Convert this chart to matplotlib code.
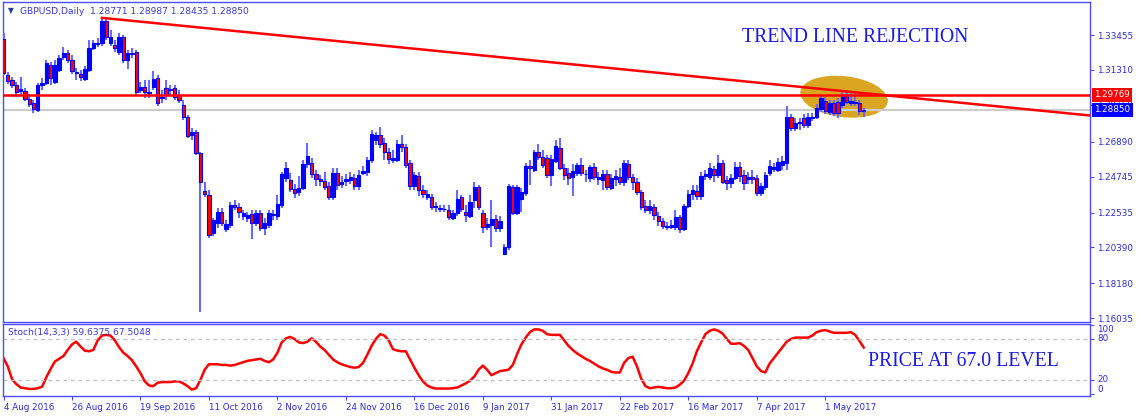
import matplotlib
matplotlib.use("Agg")
import matplotlib.pyplot as plt
import matplotlib.patches as mpatches
import matplotlib.transforms as mtransforms
import numpy as np

# daily GBPUSD candles, 4 Aug 2016 .. 12 May 2017 (one per trading day)
opens = [
    1.3321, 1.3100, 1.3069, 1.3038, 1.3001, 1.3001, 1.2952, 1.2928, 1.2885, 1.3038,
    1.3051, 1.3161, 1.3057, 1.3130, 1.3210, 1.3235, 1.3192, 1.3118, 1.3106, 1.3075,
    1.3130, 1.3266, 1.3290, 1.3296, 1.3432, 1.3296, 1.3284, 1.3241, 1.3333, 1.3192,
    1.3229, 1.3241, 1.3008, 1.3026, 1.2989, 1.3026, 1.3081, 1.2958, 1.3020, 1.3008,
    1.3020, 1.2977, 1.2915, 1.2841, 1.2731, 1.2749, 1.2620, 1.2386, 1.2362, 1.2128,
    1.2190, 1.2257, 1.2153, 1.2177, 1.2300, 1.2288, 1.2233, 1.2220, 1.2245, 1.2190,
    1.2251, 1.2159, 1.2177, 1.2239, 1.2233, 1.2300, 1.2466, 1.2454, 1.2399, 1.2380,
    1.2405, 1.2552, 1.2559, 1.2491, 1.2460, 1.2448, 1.2417, 1.2350, 1.2497, 1.2429,
    1.2448, 1.2454, 1.2466, 1.2417, 1.2497, 1.2503, 1.2577, 1.2700, 1.2731, 1.2682,
    1.2626, 1.2577, 1.2577, 1.2675, 1.2657, 1.2559, 1.2417, 1.2479, 1.2392, 1.2350,
    1.2350, 1.2288, 1.2276, 1.2273, 1.2270, 1.2220, 1.2251, 1.2350, 1.2257, 1.2233,
    1.2331, 1.2411, 1.2251, 1.2165, 1.2177, 1.2214, 1.2159, 1.1999, 1.2042, 1.2411,
    1.2251, 1.2337, 1.2374, 1.2540, 1.2515, 1.2626, 1.2596, 1.2589, 1.2485, 1.2571,
    1.2651, 1.2528, 1.2497, 1.2472, 1.2497, 1.2546, 1.2491, 1.2466, 1.2534, 1.2460,
    1.2454, 1.2491, 1.2405, 1.2460, 1.2472, 1.2442, 1.2552, 1.2472, 1.2442, 1.2380,
    1.2294, 1.2270, 1.2288, 1.2233, 1.2202, 1.2165, 1.2165, 1.2165, 1.2226, 1.2153,
    1.2294, 1.2368, 1.2386, 1.2356, 1.2479, 1.2472, 1.2522, 1.2485, 1.2559, 1.2454,
    1.2436, 1.2466, 1.2534, 1.2485, 1.2460, 1.2472, 1.2466, 1.2374, 1.2411, 1.2497,
    1.2522, 1.2515, 1.2546, 1.2559, 1.2841, 1.2774, 1.2804, 1.2835, 1.2792, 1.2835,
    1.2841, 1.2891, 1.2940, 1.2872, 1.2928, 1.2934, 1.2915, 1.2971, 1.2928, 1.2928,
    1.2928, 1.28771,
]
highs = [
    1.3358, 1.3118, 1.3087, 1.3057, 1.3087, 1.3020, 1.2983, 1.2946, 1.3051, 1.3081,
    1.3192, 1.3180, 1.3192, 1.3223, 1.3272, 1.3253, 1.3223, 1.3143, 1.3130, 1.3155,
    1.3315, 1.3315, 1.3327, 1.3444, 1.3444, 1.3376, 1.3315, 1.3358, 1.3345, 1.3253,
    1.3266, 1.3253, 1.3057, 1.3069, 1.3069, 1.3124, 1.3100, 1.3008, 1.3069, 1.3038,
    1.3038, 1.3008, 1.2946, 1.2853, 1.2774, 1.2761, 1.2626, 1.2442, 1.2392, 1.2220,
    1.2282, 1.2282, 1.2208, 1.2319, 1.2331, 1.2313, 1.2270, 1.2257, 1.2270, 1.2270,
    1.2270, 1.2220, 1.2270, 1.2270, 1.2362, 1.2503, 1.2565, 1.2497, 1.2429, 1.2479,
    1.2577, 1.2682, 1.2589, 1.2515, 1.2485, 1.2503, 1.2442, 1.2528, 1.2528, 1.2479,
    1.2491, 1.2503, 1.2491, 1.2515, 1.2540, 1.2596, 1.2761, 1.2749, 1.2780, 1.2712,
    1.2651, 1.2638, 1.2700, 1.2731, 1.2675, 1.2577, 1.2503, 1.2503, 1.2423, 1.2392,
    1.2368, 1.2319, 1.2300, 1.2300, 1.2300, 1.2270, 1.2392, 1.2362, 1.2300, 1.2362,
    1.2442, 1.2423, 1.2270, 1.2220, 1.2331, 1.2239, 1.2233, 1.2060, 1.2429, 1.2423,
    1.2423, 1.2405, 1.2559, 1.2577, 1.2638, 1.2675, 1.2638, 1.2608, 1.2608, 1.2700,
    1.2712, 1.2552, 1.2528, 1.2552, 1.2559, 1.2589, 1.2515, 1.2546, 1.2559, 1.2503,
    1.2515, 1.2515, 1.2491, 1.2515, 1.2528, 1.2577, 1.2577, 1.2491, 1.2466, 1.2392,
    1.2331, 1.2331, 1.2306, 1.2257, 1.2220, 1.2196, 1.2208, 1.2270, 1.2239, 1.2306,
    1.2392, 1.2423, 1.2423, 1.2503, 1.2515, 1.2559, 1.2540, 1.2608, 1.2577, 1.2479,
    1.2491, 1.2565, 1.2565, 1.2515, 1.2503, 1.2515, 1.2485, 1.2436, 1.2503, 1.2577,
    1.2559, 1.2589, 1.2602, 1.2909, 1.2860, 1.2835, 1.2835, 1.2860, 1.2866, 1.2866,
    1.2921, 1.2977, 1.2965, 1.2946, 1.2946, 1.2958, 1.2995, 1.2995, 1.2995, 1.2989,
    1.2946, 1.28987,
]
lows = [
    1.3100, 1.3044, 1.3020, 1.2977, 1.2977, 1.2940, 1.2903, 1.2866, 1.2872, 1.3008,
    1.3038, 1.3038, 1.3044, 1.3118, 1.3192, 1.3173, 1.3106, 1.3069, 1.3063, 1.3063,
    1.3118, 1.3253, 1.3272, 1.3278, 1.3315, 1.3278, 1.3241, 1.3223, 1.3173, 1.3137,
    1.3204, 1.2977, 1.2989, 1.2958, 1.2958, 1.3008, 1.2909, 1.2928, 1.2946, 1.2977,
    1.2946, 1.2928, 1.2823, 1.2712, 1.2700, 1.2608, 1.1642, 1.2350, 1.2097, 1.2110,
    1.2159, 1.2171, 1.2134, 1.2159, 1.2270, 1.2220, 1.2208, 1.2196, 1.2091, 1.2171,
    1.2140, 1.2116, 1.2159, 1.2208, 1.2208, 1.2282, 1.2442, 1.2380, 1.2343, 1.2356,
    1.2392, 1.2528, 1.2466, 1.2417, 1.2417, 1.2392, 1.2331, 1.2331, 1.2392, 1.2405,
    1.2417, 1.2429, 1.2392, 1.2392, 1.2485, 1.2479, 1.2559, 1.2669, 1.2651, 1.2577,
    1.2552, 1.2559, 1.2565, 1.2626, 1.2528, 1.2392, 1.2392, 1.2356, 1.2343, 1.2331,
    1.2270, 1.2257, 1.2257, 1.2257, 1.2208, 1.2208, 1.2233, 1.2257, 1.2196, 1.2220,
    1.2282, 1.2270, 1.2128, 1.2146, 1.2042, 1.2134, 1.2134, 1.1993, 1.2023, 1.2239,
    1.2239, 1.2257, 1.2356, 1.2423, 1.2503, 1.2577, 1.2528, 1.2466, 1.2417, 1.2559,
    1.2515, 1.2454, 1.2423, 1.2356, 1.2479, 1.2479, 1.2442, 1.2442, 1.2454, 1.2423,
    1.2392, 1.2392, 1.2392, 1.2417, 1.2423, 1.2417, 1.2454, 1.2392, 1.2362, 1.2270,
    1.2251, 1.2245, 1.2208, 1.2171, 1.2153, 1.2146, 1.2153, 1.2146, 1.2128, 1.2140,
    1.2282, 1.2331, 1.2331, 1.2331, 1.2454, 1.2454, 1.2442, 1.2466, 1.2429, 1.2392,
    1.2405, 1.2454, 1.2442, 1.2392, 1.2429, 1.2429, 1.2356, 1.2356, 1.2392, 1.2479,
    1.2503, 1.2503, 1.2515, 1.2515, 1.2755, 1.2755, 1.2761, 1.2774, 1.2774, 1.2817,
    1.2829, 1.2872, 1.2860, 1.2854, 1.2847, 1.2835, 1.2897, 1.2921, 1.2909, 1.2909,
    1.2854, 1.28435,
]
closes = [
    1.3112, 1.3063, 1.3038, 1.2995, 1.3014, 1.2952, 1.2921, 1.2891, 1.3038, 1.3051,
    1.3173, 1.3081, 1.3161, 1.3204, 1.3235, 1.3192, 1.3124, 1.3112, 1.3087, 1.3137,
    1.3266, 1.3296, 1.3296, 1.3432, 1.3333, 1.3333, 1.3266, 1.3333, 1.3192, 1.3235,
    1.3235, 1.2995, 1.3026, 1.2995, 1.2995, 1.3075, 1.2928, 1.2965, 1.2977, 1.3014,
    1.2965, 1.2946, 1.2841, 1.2725, 1.2749, 1.2620, 1.2442, 1.2368, 1.2116, 1.2208,
    1.2257, 1.2190, 1.2183, 1.2300, 1.2288, 1.2257, 1.2251, 1.2239, 1.2190, 1.2251,
    1.2159, 1.2190, 1.2251, 1.2245, 1.2306, 1.2491, 1.2528, 1.2399, 1.2374, 1.2405,
    1.2552, 1.2602, 1.2491, 1.2460, 1.2448, 1.2411, 1.2350, 1.2497, 1.2423, 1.2442,
    1.2460, 1.2472, 1.2417, 1.2485, 1.2509, 1.2577, 1.2737, 1.2731, 1.2675, 1.2626,
    1.2583, 1.2589, 1.2675, 1.2657, 1.2546, 1.2417, 1.2485, 1.2392, 1.2368, 1.2368,
    1.2288, 1.2294, 1.2282, 1.2276, 1.2226, 1.2251, 1.2337, 1.2276, 1.2239, 1.2319,
    1.2411, 1.2288, 1.2165, 1.2183, 1.2214, 1.2159, 1.2202, 1.2042, 1.2417, 1.2251,
    1.2411, 1.2380, 1.2540, 1.2528, 1.2626, 1.2596, 1.2546, 1.2485, 1.2583, 1.2663,
    1.2528, 1.2485, 1.2466, 1.2509, 1.2546, 1.2497, 1.2488, 1.2534, 1.2472, 1.2472,
    1.2491, 1.2411, 1.2466, 1.2479, 1.2442, 1.2559, 1.2472, 1.2442, 1.2380, 1.2288,
    1.2270, 1.2294, 1.2239, 1.2202, 1.2171, 1.2171, 1.2177, 1.2226, 1.2153, 1.2294,
    1.2368, 1.2392, 1.2356, 1.2479, 1.2491, 1.2528, 1.2485, 1.2559, 1.2442, 1.2436,
    1.2466, 1.2534, 1.2479, 1.2436, 1.2472, 1.2460, 1.2374, 1.2417, 1.2485, 1.2540,
    1.2534, 1.2565, 1.2571, 1.2841, 1.2774, 1.2804, 1.2811, 1.2792, 1.2841, 1.2841,
    1.2897, 1.2958, 1.2878, 1.2928, 1.2866, 1.2866, 1.2977, 1.2934, 1.2940, 1.2934,
    1.2878, 1.28850,
]

# Stochastic (14,3,3) line, one value per candle
stoch = [
    52, 40, 21, 14, 9, 8, 7, 7, 8, 10,
    24, 36, 47, 51, 55, 64, 72, 76, 69, 63,
    62, 64, 78, 85, 86, 85, 78, 68, 60, 55,
    49, 40, 30, 18, 12, 11, 16, 17, 17, 17,
    18, 18, 15, 11, 6, 8, 20, 35, 43, 43,
    43, 42, 42, 41, 42, 44, 46, 48, 49, 50,
    51, 48, 46, 50, 60, 75, 81, 83, 80, 75,
    74, 76, 81, 76, 69, 64, 57, 50, 46, 43,
    41, 39, 38, 39, 45, 57, 70, 80, 87, 85,
    78, 65, 63, 62, 62, 50, 38, 27, 18, 12,
    9, 7.5, 7.5, 7.5, 7.5, 8, 9, 12, 15, 19,
    25, 35, 41, 35, 27, 30, 33, 34, 35, 42,
    58, 72, 82, 90, 94, 94, 92, 87, 86, 86,
    86, 78, 70, 64, 59, 55, 51, 48, 44, 40,
    37, 35, 32, 31, 31, 45, 52, 54, 40, 22,
    11, 8, 9, 10, 9, 8, 8, 9, 13, 19,
    30, 44, 62, 75, 87, 92, 94, 92, 88, 80,
    73, 73, 74, 70, 64, 52, 40, 33, 31, 44,
    52, 60, 68, 76, 80, 82, 82, 82, 82, 85,
    90, 92, 93, 91, 89, 89, 89, 89, 90, 86,
    77, 67.5,
]

date_ticks = [0, 16, 32, 48, 64, 80, 96, 112, 128, 144, 160, 176, 192]
date_labels = ['4 Aug 2016', '26 Aug 2016', '19 Sep 2016', '11 Oct 2016', '2 Nov 2016',
               '24 Nov 2016', '16 Dec 2016', '9 Jan 2017', '31 Jan 2017', '22 Feb 2017',
               '16 Mar 2017', '7 Apr 2017', '1 May 2017']
price_ticks = [1.33455, 1.31310, 1.29160, 1.26890, 1.24745, 1.22535, 1.20390, 1.18180, 1.16035]
stoch_ticks = [100, 80, 20, 0]

resistance = 1.29769
bid = 1.28850
trend_x = [23, 254]
trend_y = [1.3451, 1.2850]

BLUE = '#0000ff'
TXT = '#2d2dd6'
FRAME = '#4d4dff'
W, H = 1138, 417

fig = plt.figure(figsize=(W / 100, H / 100), dpi=100)
ax = fig.add_axes([3 / W, 1 - 322 / H, 1087 / W, 320 / H])
ax2 = fig.add_axes([3 / W, 1 - 396 / H, 1087 / W, 72 / H])

idx = np.arange(len(closes))
o = np.array(opens)
c = np.array(closes)
up = c >= o
body_lo = np.minimum(o, c)
body_h = np.maximum(np.abs(c - o), 0.0002)

ax.vlines(idx, lows, highs, color='#6a6aff', lw=1.5, zorder=3)
ax.bar(idx, body_h, bottom=body_lo, width=0.78,
       color=np.where(up, BLUE, '#ff0000'), edgecolor=BLUE, linewidth=0.8, zorder=4)

# highlighted zone around the rejection
trans = fig.dpi_scale_trans + mtransforms.ScaledTranslation(196.4, 1.2966, ax.transData)
ax.add_patch(mpatches.Ellipse((0, 0), width=0.88, height=0.41, angle=-6.5, transform=trans,
                              facecolor='#daa520', edgecolor='none', zorder=1))

ax.axhline(bid, color='#cccccc', lw=1.6, zorder=2)
ax.axhline(resistance, color='#ff0000', lw=1.8, zorder=5)
ax.plot(trend_x, trend_y, color='#ff0000', lw=1.8, zorder=5)

ax.set_xlim(-0.12, 253.86)
ax.set_ylim(1.158045, 1.354845)
ax.set_xticks([])
ax.yaxis.tick_right()
ax.set_yticks(price_ticks)
ax.set_yticklabels([f'{p:.5f}' for p in price_ticks])
ax.tick_params(axis='y', direction='out', length=3, width=0.8, color=FRAME,
               labelsize=6.3, labelcolor=TXT, pad=2)

for val, lab, bg in [(resistance, '1.29769', '#ff0000'), (bid, '1.28850', BLUE)]:
    ax.annotate(lab, xy=(1, val), xycoords=('axes fraction', 'data'),
                xytext=(3.2, 0), textcoords='offset points', ha='left', va='center',
                fontsize=6.3, color='white', annotation_clip=False, zorder=10,
                bbox=dict(boxstyle='square,pad=0.25', fc=bg, ec='none'))

# stochastic panel
ax2.plot(idx, stoch, color='#ff0000', lw=1.8)
for lvl in (80, 20):
    ax2.axhline(lvl, color='#c0c0c0', lw=0.9, ls=(0, (3, 3)))
ax2.set_xlim(-0.12, 253.86)
ax2.set_ylim(-3.4, 101.9)
ax2.yaxis.tick_right()
ax2.set_yticks(stoch_ticks)
ax2.set_yticklabels([str(t) for t in stoch_ticks])
for lab, va in zip(ax2.get_yticklabels(), ['top', 'center', 'center', 'bottom']):
    lab.set_va(va)
ax2.tick_params(axis='y', direction='out', length=3, width=0.8, color=FRAME,
                labelsize=6.3, labelcolor=TXT, pad=2)
ax2.set_xticks(date_ticks)
ax2.set_xticklabels(date_labels)
for lab in ax2.get_xticklabels():
    lab.set_ha('left')
ax2.tick_params(axis='x', direction='out', length=3, width=0.8, color=FRAME,
                labelsize=6.3, labelcolor=TXT, pad=2)

for a in (ax, ax2):
    for s in a.spines.values():
        s.set_color(FRAME)
        s.set_linewidth(1)

fig.text(8 / W, 1 - 11 / H, '\u25bc', fontsize=5.5, color='#1f3f9f', va='center')
fig.text(20 / W, 1 - 11 / H, 'GBPUSD,Daily  1.28771 1.28987 1.28435 1.28850',
         fontsize=6.6, color='#3a3ad0', va='center')
fig.text(8 / W, 1 - 332 / H, 'Stoch(14,3,3) 59.6375 67.5048',
         fontsize=6.6, color='#3a3ad0', va='center')
fig.text(742 / W, 1 - 38 / H, 'TREND LINE REJECTION', family='Liberation Serif',
         fontsize=14.2, color='#1a1ae0', va='center')
fig.text(868 / W, 1 - 362 / H, 'PRICE AT 67.0 LEVEL', family='Liberation Serif',
         fontsize=14.2, color='#1a1ae0', va='center')

fig.savefig('out.png', dpi=100, facecolor='white')
